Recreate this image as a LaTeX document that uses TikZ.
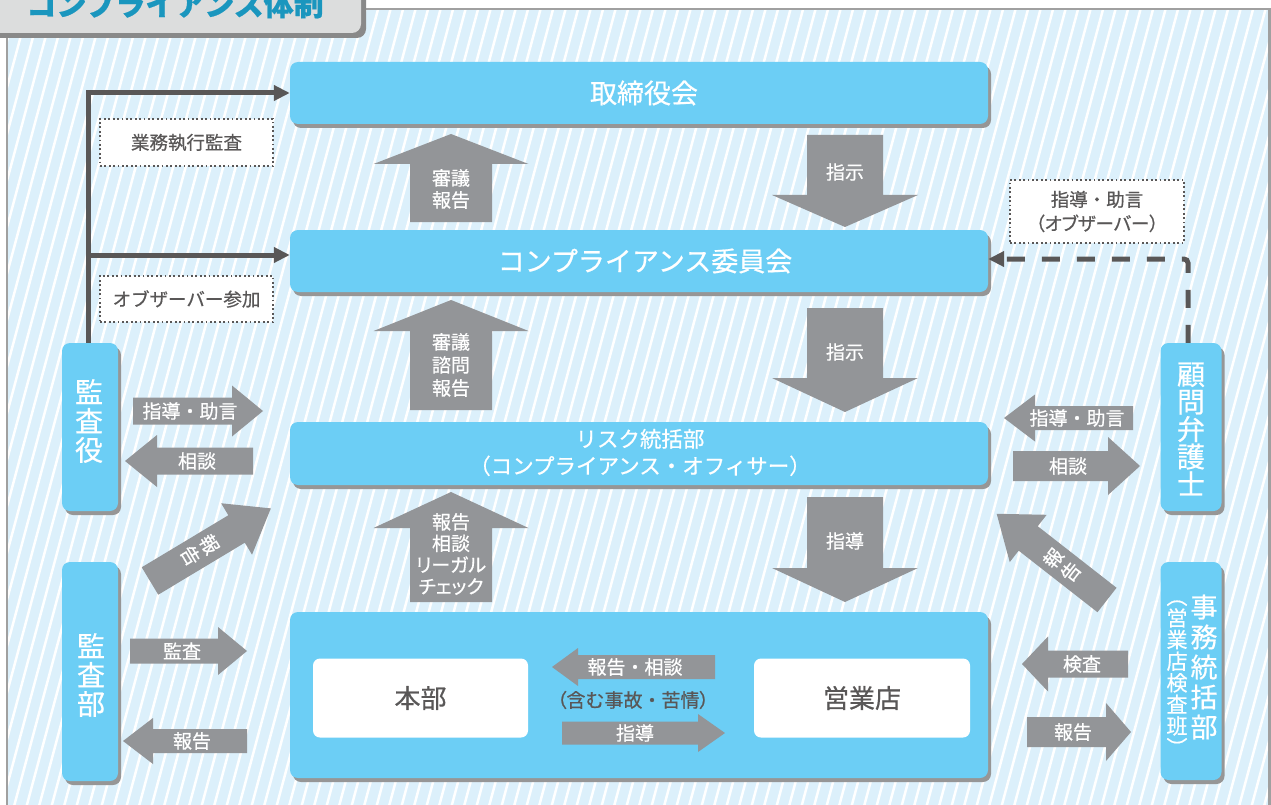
\documentclass[tikz,border=0pt]{standalone}
\usepackage{fontspec}
\setmainfont{Noto Sans CJK JP}[RawFeature={embolden=0.6}]
\newfontfamily\palt[RawFeature={+palt,embolden=0.6}]{Noto Sans CJK JP}
\usetikzlibrary{arrows.meta,shadows}
\definecolor{boxblue}{RGB}{108,206,245}
\definecolor{arrowgray}{RGB}{147,149,152}
\definecolor{darkline}{RGB}{89,87,87}
\definecolor{hatchblue}{RGB}{220,240,251}
\definecolor{framegray}{RGB}{160,160,160}
\definecolor{tabgray}{RGB}{220,221,221}
\definecolor{tabshadow}{RGB}{137,137,137}
\definecolor{titleblue}{RGB}{26,150,190}
\definecolor{shadowgray}{RGB}{150,150,150}
\definecolor{textgray}{RGB}{89,87,87}
\tikzset{
  bluebox/.style={rounded corners=8pt, fill=boxblue, inner sep=0pt,
    drop shadow={shadow xshift=3pt, shadow yshift=-4pt, fill=shadowgray, opacity=1}},
  whitebox/.style={rounded corners=7pt, fill=white, inner sep=0pt, text=textgray,
    font=\fontsize{26}{26}\selectfont},
  dotbox/.style={fill=white, draw=textgray, line width=1.8pt, dash pattern=on 1.8pt off 2.6pt,
    inner sep=0pt, text=textgray, font=\fontsize{18.5}{24}\selectfont, align=center},
  boxtext/.style={text=white, inner sep=0pt, align=center},
  albl/.style={text=white, inner sep=0pt, align=center, font=\fontsize{19}{22}\selectfont},
  conn/.style={draw=darkline, line width=5pt, -{Triangle[length=16pt,width=15pt]}},
  dconn/.style={conn, dash pattern=on 18pt off 17pt},
}
\newcommand\blockarrow[6]{%
  \fill[arrowgray, shift={#1}, rotate=#2] (0,{-#4/2}) -- ({#3-#6},{-#4/2}) -- ({#3-#6},{-#5/2})
    -- (#3,0) -- ({#3-#6},{#5/2}) -- ({#3-#6},{#4/2}) -- (0,{#4/2}) -- cycle;}
\begin{document}
\begin{tikzpicture}[x=1pt,y=-1pt]
\useasboundingbox (0,0) rectangle (1271,805);
\clip (0,0) rectangle (1271,805);
% panel background with hatch
\fill[hatchblue] (7,9) rectangle (1270,810);
\begin{scope}
  \clip (7,9) rectangle (1270,810);
  \foreach \i in {-20,...,105} {
    \draw[white, line width=2.5pt] (\i*12.5,812) -- (\i*12.5+218,0);
  }
\end{scope}
\draw[framegray, line width=2.5pt] (7,812) -- (7,9) -- (1269.5,9) -- (1269.5,812);
% title tab
\fill[tabshadow, rounded corners=9pt] (-12,-12) rectangle (366,38);
\fill[tabgray, rounded corners=9pt] (-12,-12) rectangle (361,33);
\node[text=titleblue, inner sep=0pt, font=\fontsize{30}{30}\bfseries\selectfont] (title) at (175,4) {コンプライアンス体制};

% main boxes
\node[bluebox, minimum width=698pt, minimum height=62pt] (tori) at (639,93) {};
\node[boxtext, font=\fontsize{27}{27}\selectfont] (toriT) at (644,93) {取締役会};
\node[bluebox, minimum width=698pt, minimum height=62pt] (iinkai) at (639,261) {};
\node[boxtext, font=\fontsize{27}{27}\selectfont] (iinkaiT) at (645,261) {コンプライアンス委員会};
\node[bluebox, minimum width=698pt, minimum height=63pt] (risk) at (639,453.5) {};
\node[boxtext, font=\fontsize{21.5}{27}\selectfont] (riskT) at (640,452.5) {リスク統括部\\（コンプライアンス・オフィサー）};
\node[bluebox, minimum width=698pt, minimum height=166pt] (big) at (639,695) {};
\node[whitebox, minimum width=215pt, minimum height=79pt] (honbu) at (420.5,698) {本部};
\node[whitebox, minimum width=216pt, minimum height=79pt] (eigyo) at (862,698) {営業店};

% side boxes
\node[bluebox, minimum width=56pt, minimum height=168pt] (kansayaku) at (90,427) {};
\node[boxtext, font=\fontsize{28}{29}\selectfont] (kansayakuT) at (89,421) {監\\査\\役};
\node[bluebox, minimum width=56pt, minimum height=219pt] (kansabu) at (90,671.5) {};
\node[boxtext, font=\fontsize{28}{29}\selectfont] (kansabuT) at (91,675) {監\\査\\部};
\node[bluebox, minimum width=61pt, minimum height=168pt] (komon) at (1191,427) {};
\node[boxtext, font=\fontsize{28}{27.5}\selectfont] (komonT) at (1191,429) {顧\\問\\弁\\護\\士};
\node[bluebox, minimum width=61pt, minimum height=218pt] (jimu) at (1191,671) {};
\node[boxtext, font=\fontsize{27}{30}\selectfont] (jimuT) at (1204,667) {事\\務\\統\\括\\部};
\node[boxtext, font=\fontsize{21}{21.6}\selectfont] (jimuS) at (1177,678) {︵\\営\\業\\店\\検\\査\\班\\︶};

% dotted boxes
\node[dotbox, minimum width=173pt, minimum height=47pt] (gyomu) at (186.5,142.5) {業務執行監査};
\node[dotbox, minimum width=173pt, minimum height=46pt] (obs) at (186.5,299) {オブザーバー参加};
\node[dotbox, minimum width=174pt, minimum height=63pt] (shidou) at (1097,211.5) {指導・助言\\{\palt （オブザーバー）}};

% block arrows
\blockarrow{(451,222)}{90}{88}{82}{155}{30}
\blockarrow{(451,410)}{90}{110}{82}{155}{31}
\blockarrow{(451,602)}{90}{110}{82}{155}{36}
\blockarrow{(845,135)}{-90}{92}{76}{146}{32}
\blockarrow{(845,308)}{-90}{104}{76}{146}{34}
\blockarrow{(845,497)}{-90}{105}{76}{146}{34}
\blockarrow{(133,411)}{0}{130}{27}{51}{31}
\blockarrow{(253,461)}{180}{128}{27}{52}{32}
\blockarrow{(130,651)}{0}{117}{25}{48}{29}
\blockarrow{(247,741)}{180}{124}{24}{46}{30}
\blockarrow{(715,667)}{180}{163}{24}{38}{26}
\blockarrow{(562,733)}{0}{163}{23}{38}{27}
\blockarrow{(1133,418)}{180}{129}{24}{47}{31}
\blockarrow{(1013,466)}{0}{127}{30}{58}{32}
\blockarrow{(1128,664)}{180}{106}{27}{55}{26}
\blockarrow{(1027,732)}{0}{104}{30}{58}{25}
\blockarrow{(150,581)}{31}{141}{32}{60}{40}
\blockarrow{(1107,600)}{142}{140}{31}{60}{40}

% arrow labels
\node[albl] (l1) at (451,189) {審議\\報告};
\node[albl, font=\fontsize{19}{23}\selectfont] (l2) at (451,365) {審議\\諮問\\報告};
\node[albl, font=\fontsize{19}{21.5}\selectfont] (l3) at (451,554) {報告\\相談\\{\palt リーガル}\\{\palt チェック}};
\node[albl] (l4) at (845,172) {指示};
\node[albl] (l5) at (845,352) {指示};
\node[albl] (l6) at (845,541) {指導};
\node[albl] (l7) at (190,411) {指導・助言};
\node[albl] (l8) at (197,461) {相談};
\node[albl] (l9) at (182,651) {監査};
\node[albl] (l10) at (192,741) {報告};
\node[albl] (l11) at (635,667) {報告・相談};
\node[albl] (l12) at (635,733) {指導};
\node[text=textgray, inner sep=0pt, font=\fontsize{19}{19}\selectfont] (l13) at (633,700) {{\palt （}含む事故・苦情{\palt ）}};
\node[albl] (l14) at (1077,418) {指導・助言};
\node[albl] (l15) at (1068,466) {相談};
\node[albl] (l16) at (1082,664) {検査};
\node[albl] (l17) at (1073,732) {報告};
\node[albl, rotate=-59] (l18) at (200,550) {報\\告};
\node[albl, rotate=52] (l19) at (1062,565) {報\\告};

% connectors
\draw[conn] ([xshift=-2pt]kansayaku.north) |- (tori.west);
\draw[conn] ([xshift=-2pt]kansayaku.north) |- ([yshift=6pt]iinkai.west);
\draw[dconn, rounded corners=4pt] ([xshift=-3pt]komon.north) |- ([yshift=2pt]iinkai.east);
\end{tikzpicture}
\end{document}
